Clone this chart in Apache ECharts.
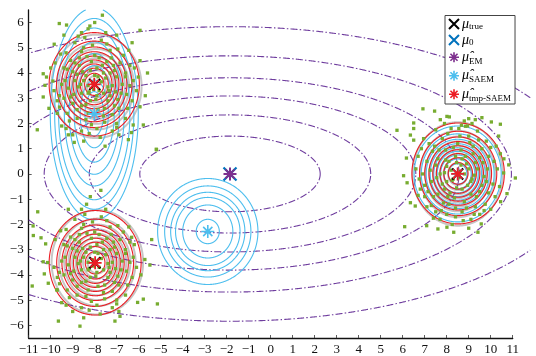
<!DOCTYPE html>
<html>
<head>
<meta charset="utf-8">
<script src="https://cdn.jsdelivr.net/npm/echarts@6/dist/echarts.min.js"></script>
<style>
  html, body { margin: 0; padding: 0; background: #fff; }
  #chart { width: 536px; height: 356px; }
</style>
</head>
<body>
<div id="chart"></div>
<script>
// ---- observed samples (three clusters plus a few strays) ----
const pointsUpperLeft = [
  [-7.65,6.29],[-9.61,5.96],[-9.28,5.90],[-8.22,5.86],[-5.94,5.69],[-8.75,5.46],[-9.84,5.14],[-10.34,3.97],
  [-10.19,3.84],[-10.26,3.51],[-10.34,3.05],[-10.08,2.6],[-10.61,1.75],[-9.2,1.55],[-8.93,1.25],[-7.53,1.10],
  [-6.47,1.36],[-5.79,1.94],[-6.25,1.94],[-5.19,0.96],[-5.94,2.66],[-6.02,3.84],[-5.94,4.49],[-9.9,3.68],
  [-8.1,3.6],[-7.8,3.3],[-8.4,3.9],[-7.5,3.8],[-8.6,3.2],[-7.2,3.5],[-8.9,3.7],[-7.9,4.2],[-8.2,2.9],[-7.4,2.9],
  [-8.7,4.3],[-7.1,4.1],[-9.2,3.4],[-6.8,3.2],[-8.0,4.7],[-8.3,2.4],[-7.6,2.3],[-9.0,2.8],[-6.9,2.6],[-9.4,4.2],
  [-6.6,4.0],[-8.5,5.0],[-7.3,4.9],[-9.6,3.1],[-6.4,3.5],[-8.8,2.2],[-7.0,2.0],[-9.3,4.8],[-6.7,4.7],[-7.7,5.3],
  [-8.9,5.2],[-9.8,4.4],[-6.2,4.2],[-6.3,2.9],[-9.7,2.4],[-7.9,1.8],[-8.6,1.7],[-7.2,1.7],[-6.6,2.2],[-9.5,1.9],
  [-8.05,3.35],[-7.7,3.65],[-8.3,3.5],[-8.5,3.7],[-7.6,4.0],[-8.2,4.1],[-7.95,2.95],[-8.6,2.7],[-7.3,3.1],
  [-8.8,3.95],[-7.0,3.85],[-8.15,4.45],[-7.45,4.45],[-8.7,4.6],[-9.1,3.05],[-7.1,2.7],[-8.4,2.15],[-7.85,2.55],
  [-9.35,3.7],[-6.85,4.4],[-8.45,5.4],[-7.5,5.6],[-8.3,5.75],[-9.1,4.5],[-6.45,4.9],[-9.25,2.4],[-6.5,2.6],
  [-7.75,1.45],[-8.5,1.3],[-6.9,1.55],[-9.0,1.55],[-9.55,4.75],[-6.1,3.3],[-6.25,3.7],[-9.85,3.3],[-10.0,4.2],
  [-5.7,3.1],[-5.6,4.0],[-8.0,6.0],[-7.0,5.5],[-9.4,5.5],[-6.3,5.2],[-7.4,3.45],[-8.75,3.45],[-7.55,2.6],
  [-8.1,5.1],[-6.95,4.95],[-9.7,2.9],
  [-8.25,3.25],[-7.85,3.85],[-8.55,4.05],[-7.35,3.3],[-8.95,3.15],[-7.65,4.3],[-8.35,4.65],[-7.25,4.6],
  [-8.8,2.55],[-7.55,2.05],[-8.15,1.95],[-9.15,2.1],[-6.75,3.55],[-9.5,3.55],[-7.05,3.25],[-8.65,3.55],
  [-7.9,3.1],[-8.4,2.75],[-7.2,2.35],[-9.0,4.05],[-6.6,3.85],[-7.8,4.6],[-8.6,4.85],[-7.15,4.3],[-9.25,4.15],
  [-9.6,2.65],[-6.95,2.95],[-8.3,3.2],[-7.6,3.2],[-8.0,3.9],[-7.3,4.0],[-8.9,4.4],[-9.4,3.0],[-6.4,4.3],
  [-6.55,3.15],[-7.0,1.85],[-8.25,1.6],[-9.3,1.8],[-7.45,5.15],[-8.6,5.6]
];
const pointsLowerLeft = [
  [-7.72,-0.65],[-10.59,-1.5],[-8.37,-1.2],[-9.2,-1.4],[-10.79,-2.44],[-10.44,-2.53],[-10.23,-2.77],[-10.34,-3.48],
  [-10.11,-4.33],[-10.84,-4.44],[-9.73,-4.59],[-9.65,-5.83],[-8.67,-6.03],[-7.08,-5.83],[-6.85,-5.64],[-6.05,-5.09],
  [-5.79,-4.96],[-5.15,-5.15],[-5.41,-2.6],[-5.72,-3.39],[-5.49,-3.61],[-6.32,-2.51],[-10.8,-2.06],[-10.14,-3.51],
  [-10.29,-3.96],
  [-8.1,-3.4],[-7.8,-3.7],[-8.4,-3.1],[-7.5,-3.2],[-8.6,-3.8],[-7.2,-3.5],[-8.9,-3.3],[-7.9,-2.8],[-8.2,-4.1],
  [-7.4,-4.1],[-8.7,-2.7],[-7.1,-2.9],[-9.2,-3.6],[-6.8,-3.8],[-8.0,-2.3],[-8.3,-4.6],[-7.6,-4.7],[-9.0,-4.2],
  [-6.9,-4.4],[-9.4,-2.8],[-6.6,-3.0],[-8.5,-2.0],[-7.3,-2.1],[-9.6,-3.9],[-6.4,-3.5],[-8.8,-4.8],[-7.0,-5.0],
  [-9.3,-2.2],[-6.7,-2.3],[-7.7,-1.7],[-8.9,-1.8],[-9.8,-2.6],[-6.2,-2.8],[-6.3,-4.1],[-9.7,-4.6],[-7.9,-5.2],
  [-8.6,-5.3],[-7.2,-5.3],[-6.6,-4.8],[-9.5,-5.1],[-8.05,-3.65],[-7.7,-3.35],[-8.3,-3.5],[-8.5,-3.3],[-7.6,-3.0],
  [-8.2,-2.9],[-7.95,-4.05],[-8.6,-4.3],[-7.3,-3.9],[-8.8,-3.05],[-7.0,-3.15],[-8.15,-2.55],[-7.45,-2.55],
  [-8.7,-2.4],[-9.1,-3.95],[-7.1,-4.3],[-8.4,-4.85],[-7.85,-4.45],[-9.35,-3.3],[-6.85,-2.6],[-8.45,-1.6],
  [-7.5,-1.4],[-9.1,-2.5],[-6.45,-2.1],[-9.25,-4.6],[-6.5,-4.4],[-7.75,-5.55],[-8.5,-5.7],[-6.9,-5.45],
  [-9.0,-5.45],[-9.55,-2.25],[-6.1,-3.7],[-6.25,-3.3],[-9.85,-3.7],[-5.9,-4.0],[-7.4,-3.55],[-8.75,-3.55],
  [-7.55,-4.4],[-8.1,-1.9],[-6.95,-2.05],[-9.7,-4.1],[-8.2,-0.9],
  [-8.25,-3.75],[-7.85,-3.15],[-8.55,-2.95],[-7.35,-3.7],[-8.95,-3.85],[-7.65,-2.7],[-8.35,-2.35],[-7.25,-2.4],
  [-8.8,-4.45],[-7.55,-4.95],[-8.15,-5.05],[-9.15,-4.9],[-6.75,-3.45],[-9.5,-3.45],[-7.05,-3.75],[-8.65,-3.45],
  [-7.9,-3.9],[-8.4,-4.25],[-7.2,-4.65],[-9.0,-2.95],[-6.6,-3.15],[-7.8,-2.4],[-8.6,-2.15],[-7.15,-2.7],
  [-9.25,-2.85],[-9.6,-4.35],[-6.95,-4.05],[-8.3,-3.8],[-7.6,-3.8],[-8.0,-3.1],[-7.3,-3.0],[-8.9,-2.6],
  [-9.4,-4.0],[-6.4,-2.7],[-6.55,-3.85],[-7.0,-5.15],[-8.25,-5.4],[-9.3,-5.2],[-7.45,-1.85],[-8.6,-1.4]
];
const pointsRight = [
  [6.92,2.58],[7.45,2.49],[8.01,2.28],[8.12,2.26],[7.71,2.15],[6.5,2.02],[6.5,1.8],[6.35,1.54],[5.74,1.73],
  [6.5,1.34],[6.17,0.63],[6.04,-0.07],[6.2,-0.35],[6.35,-1.14],[6.57,-1.27],[6.09,-2.09],[7.6,-2.18],[8.01,-2.11],
  [8.32,-2.31],[9.0,-2.15],[9.42,-2.31],[9.57,-1.98],[10.74,-0.78],[11.12,-0.16],[10.59,0.04],[10.44,0.8],
  [10.82,0.36],[10.36,1.5],[10.03,2.06],[10.44,1.97],[9.3,2.15],[9.6,2.23],[9.0,2.19],[8.67,1.93],[8.85,1.89],
  [7.09,-2.05],
  [8.6,0.1],[8.3,-0.2],[8.9,0.4],[8.0,0.3],[9.1,-0.3],[7.7,0.0],[9.4,0.2],[8.4,0.7],[8.7,-0.6],[7.9,-0.6],
  [9.2,0.8],[7.6,0.6],[9.7,-0.1],[7.3,-0.3],[8.5,1.2],[8.8,-1.1],[8.1,-1.2],[9.5,-0.7],[7.4,-0.9],[9.9,0.7],
  [7.1,0.5],[9.0,1.5],[7.8,1.4],[10.1,-0.4],[6.9,0.0],[9.3,-1.3],[7.5,-1.5],[9.8,1.3],[7.2,1.2],[8.2,1.8],
  [9.4,1.7],[10.3,0.2],[6.7,0.7],[6.8,-0.6],[10.2,-0.9],[8.4,-1.7],[9.1,-1.8],[7.7,-1.8],[7.1,-1.3],[10.0,-1.4],
  [8.55,-0.15],[8.2,0.15],[8.8,0.0],[9.0,0.2],[8.1,0.5],[8.7,0.6],[8.45,-0.55],[9.1,-0.8],[7.8,-0.4],[9.3,0.45],
  [7.5,0.35],[8.65,0.95],[7.95,0.95],[9.2,1.1],[9.6,-0.45],[7.6,-0.8],[8.9,-1.35],[8.35,-0.95],[9.85,0.2],
  [7.35,0.9],[8.95,1.9],[8.0,-1.6],[8.8,2.1],[9.6,1.0],[6.95,1.4],[9.75,-1.2],[7.0,-0.9],[8.25,-2.0],[9.5,-1.6],
  [7.4,-1.75],[7.5,1.75],[10.4,-0.5],[6.6,0.2],[6.75,-0.2],[10.6,0.6],[7.9,0.05],[9.25,-0.05],[8.05,-0.9],
  [8.6,1.5],[10.0,1.05],
  [8.25,-0.25],[8.65,0.35],[7.95,0.55],[9.15,-0.2],[7.55,-0.15],[8.85,0.7],[8.15,-0.75],[9.35,-0.9],
  [7.85,-1.15],[9.05,1.25],[8.3,1.05],[7.45,1.1],[9.65,0.45],[7.25,0.15],[8.7,-1.5],[9.9,-0.75],[7.0,-0.45],
  [8.05,1.6],[9.45,1.35],[6.85,1.0],[10.15,0.5],[8.4,-1.35],[7.3,-1.25],[9.7,-1.45],[8.55,1.8],[9.25,-1.6],
  [7.75,-1.45],[8.95,-0.45],[8.45,0.45],[7.65,0.95],[9.5,0.65],[8.0,-0.3],[9.8,-0.3],[7.15,-0.7],[8.75,-1.85],
  [6.7,-0.85],[10.25,1.1],[7.9,2.0],[9.15,2.0],[10.45,-1.1]
];
const pointsStray = [[-6.33,1.64],[-5.2,0.98]];

// ---- estimated means ----
const muTrue = [[-8.0,3.55],[-7.99,-3.52],[8.5,0.0]];
const muInit = [[-1.85,0.0]];
const muEM = [[-1.85,0.0]];
const muSAEM = [[-8.02,2.38],[-2.86,-2.28],[8.5,0.0]];
const muTmpSAEM = [[-8.02,3.55],[-7.98,-3.52],[8.5,0.0]];

// ---- density contour descriptions: centre, semi-axes of outermost level, level fractions ----
const emCenter = [-1.85, 0.0];
const emUnitAxes = [4.1, 1.5];
const emLevels = [1, 1.56, 2.06, 2.54, 3.12, 3.89];

const ringFractions = [1, 0.836, 0.723, 0.631, 0.548, 0.471, 0.394, 0.311, 0.214];
const saemMidFractions = [1, 0.86, 0.74, 0.643, 0.5, 0.23];
const saemUpperFractions = [1, 0.9, 0.81, 0.68, 0.57, 0.455, 0.32, 0.21];

const trueRings = [
  { c: [-7.92, 3.47], r: [2.05, 2.05] },
  { c: [-7.88, -3.5], r: [2.08, 2.07] },
  { c: [8.5, 0.0], r: [2.05, 2.05] }
];
const tmpRings = [
  { c: [-8.02, 3.55], r: [2.05, 2.05] },
  { c: [-7.98, -3.52], r: [2.09, 2.07] },
  { c: [8.52, 0.02], r: [2.1, 2.0] }
];
const saemRings = [
  { c: [-8.02, 2.38], r: [2.0, 4.2], f: saemUpperFractions },
  { c: [-2.86, -2.28], r: [2.28, 2.1], f: saemMidFractions },
  { c: [8.5, 0.0], r: [1.98, 1.9], f: ringFractions }
];

const X_MIN = -11, X_MAX = 11, Y_MIN = -6.5, Y_MAX = 6.5, EM_X_END = 11.8;
const yTicks = [-6,-5,-4,-3,-2,-1,0,1,2,3,4,5,6];

// ---- geometry helpers ----
function ellipse(cx, cy, rx, ry, n) {
  const pts = [];
  for (let k = 0; k <= n; k++) {
    const t = 2 * Math.PI * k / n;
    pts.push([cx + rx * Math.cos(t), cy + ry * Math.sin(t)]);
  }
  return pts;
}
function clipToBox(pts, x0, x1, y0, y1) {
  const inside = p => p[0] >= x0 && p[0] <= x1 && p[1] >= y0 && p[1] <= y1;
  const edge = (a, b) => { // a inside, b outside
    let lo = a, hi = b;
    for (let i = 0; i < 30; i++) {
      const m = [(lo[0] + hi[0]) / 2, (lo[1] + hi[1]) / 2];
      if (inside(m)) lo = m; else hi = m;
    }
    return lo;
  };
  const segs = [];
  let cur = null;
  for (let i = 0; i < pts.length; i++) {
    const p = pts[i];
    if (inside(p)) {
      if (!cur) { cur = []; if (i > 0) cur.push(edge(p, pts[i - 1])); }
      cur.push(p);
    } else if (cur) {
      cur.push(edge(pts[i - 1], p));
      segs.push(cur);
      cur = null;
    }
  }
  if (cur) segs.push(cur);
  // closed curve: join the wrap-around pieces
  if (segs.length > 1 && inside(pts[0]) && inside(pts[pts.length - 1])) {
    const last = segs.pop();
    segs[0] = last.concat(segs[0].slice(1));
  }
  return segs;
}
function ringSet(list, fractions, xEnd) {
  const out = [];
  list.forEach(g => {
    (g.f || fractions).forEach(f => {
      clipToBox(ellipse(g.c[0], g.c[1], g.r[0] * f, g.r[1] * f, 720), X_MIN, xEnd, Y_MIN, Y_MAX)
        .forEach(s => out.push({ coords: s }));
    });
  });
  return out;
}

const emContours = [];
emLevels.forEach(c => {
  clipToBox(ellipse(emCenter[0], emCenter[1], emUnitAxes[0] * c, emUnitAxes[1] * c, 2400), X_MIN, EM_X_END, Y_MIN, Y_MAX)
    .forEach(s => emContours.push({ coords: s }));
});

// ---- styling ----
const COL = {
  true: '#000000', init: '#0072BD', em: '#7E2F8E', saem: '#4DBEEE', tmp: '#ec1c24',
  pts: '#77AC30', gray: '#c6c6c6', emLine: '#6f3d9e'
};
const SYM_X = 'path://M0,0L10,10M0,10L10,0';
const SYM_AST = 'path://M5,0L5,10M0,5L10,5M1.46,1.46L8.54,8.54M1.46,8.54L8.54,1.46';
const SERIF = '"Liberation Serif", "DejaVu Serif", serif';
const minus = v => String(v).replace('-', '\u2212');

function contourSeries(data, color, width, z, dash) {
  return {
    type: 'lines', coordinateSystem: 'cartesian2d', polyline: true, clip: false,
    silent: true, z: z, data: data, symbol: 'none',
    lineStyle: { color: color, width: width, type: dash || 'solid', opacity: 1 }
  };
}
function markerSeries(name, data, sym, size, color, width, z) {
  return {
    name: name, type: 'scatter', data: data, symbol: sym, symbolSize: size, z: z, clip: false,
    itemStyle: { color: 'rgba(0,0,0,0)', borderColor: color, borderWidth: width, opacity: 1 }
  };
}

const chart = echarts.init(document.getElementById('chart'), null, { renderer: 'canvas' });
chart.setOption({
  animation: false,
  backgroundColor: '#fff',
  grid: { left: 28.7, top: 9.9, width: 484, height: 332.2, containLabel: false },
  xAxis: {
    type: 'value', min: X_MIN, max: X_MAX, interval: 1,
    axisLine: { show: true, onZero: false, lineStyle: { color: '#111', width: 1.3 } },
    axisTick: { show: true, inside: true, length: 3, lineStyle: { color: '#333', width: 0.8 } },
    splitLine: { show: false },
    axisLabel: { color: '#111', fontFamily: SERIF, fontSize: 13, margin: 5, formatter: minus, showMinLabel: true, showMaxLabel: true }
  },
  yAxis: {
    type: 'value', min: Y_MIN, max: Y_MAX,
    axisLine: { show: true, onZero: false, lineStyle: { color: '#111', width: 1.3 } },
    axisTick: { show: true, inside: true, length: 3, customValues: yTicks, lineStyle: { color: '#333', width: 0.8 } },
    splitLine: { show: false },
    axisLabel: { color: '#111', fontFamily: SERIF, fontSize: 13, margin: 5, customValues: yTicks, formatter: minus }
  },
  legend: {
    orient: 'vertical', left: 445, top: 15.5, z: 30,
    padding: [1, 4, 1, 3], itemGap: 1, itemWidth: 10, itemHeight: 10,
    backgroundColor: '#fff', borderColor: '#444', borderWidth: 1, borderRadius: 0,
    selectedMode: false,
    data: [
      { name: 'true', icon: SYM_X, itemStyle: { color: 'rgba(0,0,0,0)', borderColor: COL.true, borderWidth: 2 } },
      { name: '0', icon: SYM_X, itemStyle: { color: 'rgba(0,0,0,0)', borderColor: COL.init, borderWidth: 2 } },
      { name: 'EM', icon: SYM_AST, itemStyle: { color: 'rgba(0,0,0,0)', borderColor: COL.em, borderWidth: 1.6 } },
      { name: 'SAEM', icon: SYM_AST, itemStyle: { color: 'rgba(0,0,0,0)', borderColor: COL.saem, borderWidth: 1.6 } },
      { name: 'tmp-SAEM', icon: SYM_AST, itemStyle: { color: 'rgba(0,0,0,0)', borderColor: COL.tmp, borderWidth: 1.6 } }
    ],
    formatter: name => {
      if (name === 'true' || name === '0') return '{m|\u03bc}{s|' + name + '}';
      return '{h|\u03bc\u0302}{t|' + name + '}';
    },
    textStyle: {
      color: '#000', padding: [0, 0, 0, -2],
      rich: {
        m: { fontFamily: SERIF, fontStyle: 'italic', fontSize: 14, lineHeight: 10, color: '#000' },
        s: { fontFamily: SERIF, fontSize: 9, lineHeight: 4, padding: [6, 0, 0, 0], color: '#000' },
        h: { fontFamily: SERIF, fontStyle: 'italic', fontSize: 14, lineHeight: 14.5, color: '#000' },
        t: { fontFamily: SERIF, fontSize: 9, lineHeight: 6, padding: [8.5, 0, 0, 0], color: '#000' }
      }
    }
  },
  series: [
    contourSeries(ringSet(trueRings, ringFractions, X_MAX), COL.gray, 2, 1),
    contourSeries(emContours, COL.emLine, 1.1, 2, [7, 2.2, 1.5, 2.2]),
    contourSeries(ringSet(saemRings, ringFractions, X_MAX), COL.saem, 1.1, 3),
    contourSeries(ringSet(tmpRings, ringFractions, X_MAX), COL.tmp, 1.1, 4),
    {
      type: 'scatter', silent: true, z: 5, clip: false,
      data: pointsUpperLeft.concat(pointsLowerLeft, pointsRight, pointsStray),
      symbol: 'rect', symbolSize: 3.3,
      itemStyle: { color: COL.pts, opacity: 1 }
    },
    markerSeries('true', muTrue, SYM_X, 11, COL.true, 2, 6),
    markerSeries('0', muInit, SYM_X, 13, COL.init, 2.2, 7),
    markerSeries('EM', muEM, SYM_AST, 13, COL.em, 2, 8),
    markerSeries('SAEM', muSAEM, SYM_AST, 13, COL.saem, 1.6, 9),
    markerSeries('tmp-SAEM', muTmpSAEM, SYM_AST, 13, COL.tmp, 1.8, 10)
  ]
});
</script>
</body>
</html>
